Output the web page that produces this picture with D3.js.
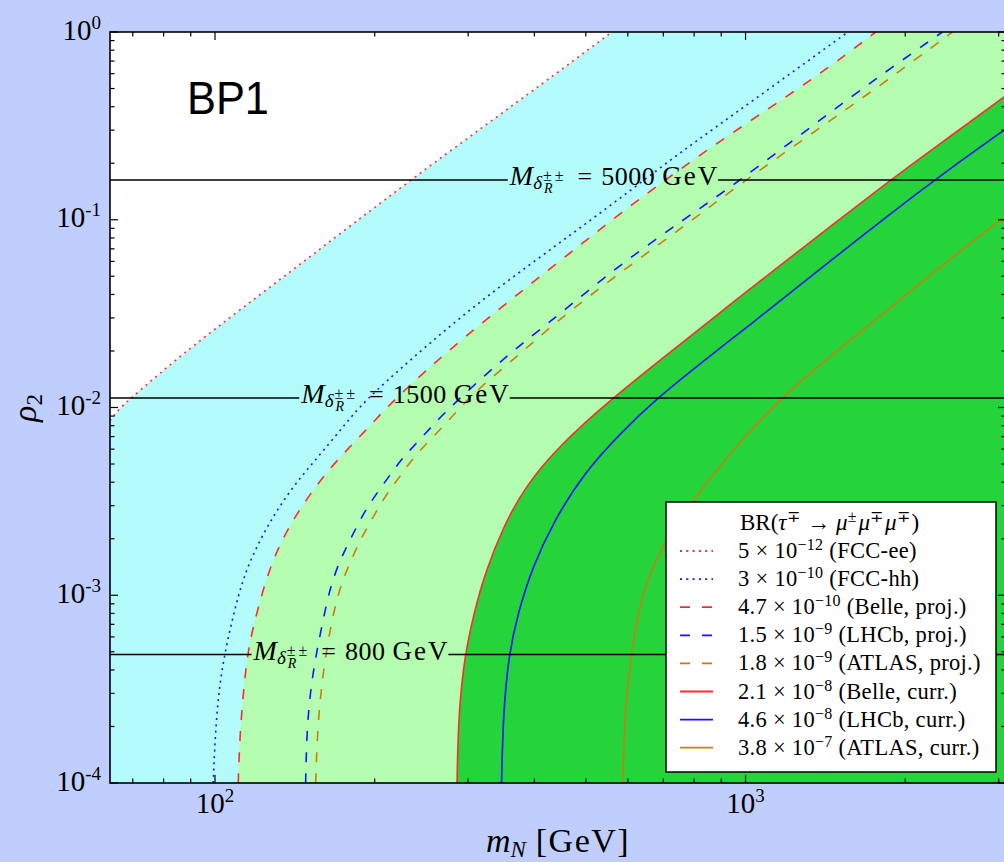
<!DOCTYPE html>
<html><head><meta charset="utf-8">
<script src="https://cdn.jsdelivr.net/npm/d3@7"></script>
<style>html,body{margin:0;padding:0;background:#bfcefd;}svg{display:block}</style>
</head><body>
<svg id="c" width="1004" height="862"></svg>
<script>
// ---------- data (m_N in GeV, rho_2) ----------
const fccEE     = [[63.4,8.49e-3],[65.3,9.5e-3],[68.2,1.074e-2],[69.5,1.12e-2],[87.5,1.98e-2],[142.6,5.6e-2],[233.1,0.1628],[440.7,0.6026],[560,1.0]];
const fccHH     = [[99.2,1e-4],[100.4,2.17e-4],[102.9,4.16e-4],[109.1,8.69e-4],[114.8,1.42e-3],[125.2,2.32e-3],[138.5,3.64e-3],[155.5,5.36e-3],[174.5,7.9e-3],[190.4,1.07e-2],[233.1,1.79e-2],[311.4,3.59e-2],[440.7,7.34e-2],[571.7,0.126],[763.4,0.235],[1020,0.42],[1560,1.0]];
const belleProj = [[110.6,1e-4],[111.4,1.84e-4],[113.9,3.84e-4],[116.4,5.78e-4],[120.7,8.69e-4],[126.9,1.42e-3],[136.5,2.23e-3],[151.1,3.49e-3],[169.6,5.25e-3],[190.4,7.29e-3],[216.8,1.1e-2],[289.6,2.29e-2],[440.7,5.86e-2],[660.7,0.144],[948.3,0.294],[1362,0.578],[1760,1.0]];
const lhcbProj  = [[148.2,1e-4],[148.9,1.84e-4],[151.1,3.0e-4],[154.4,4.52e-4],[158.9,6.8e-4],[164.8,1.11e-3],[172.1,1.54e-3],[179.7,1.97e-3],[190.4,2.73e-3],[201.7,3.49e-3],[213.8,4.37e-3],[226.5,5.47e-3],[240,6.45e-3],[269.4,9.31e-3],[325.3,1.52e-2],[375.7,2.15e-2],[440.7,3.05e-2],[571.7,5.6e-2],[763.4,0.1],[962.6,0.157],[1362,0.33],[1819,0.603],[2350,1.0]];
const atlasProj = [[154.8,1e-4],[155.9,1.84e-4],[158.2,3.0e-4],[161.2,4.52e-4],[166,7.38e-4],[172.1,1.11e-3],[178.4,1.42e-3],[187.7,1.97e-3],[198.8,2.62e-3],[210.8,3.49e-3],[223.3,4.28e-3],[236.5,5.47e-3],[269.4,7.9e-3],[298.2,1.1e-2],[339.6,1.52e-2],[392.6,2.15e-2],[443.7,2.92e-2],[571.7,5.08e-2],[763.4,9.18e-2],[990.6,0.1595],[1362,0.3006],[1819,0.533],[2455,1.0]];
const belleCurr = [[285.9,1e-4],[287.7,2.35e-4],[295.7,4.81e-4],[307.6,8.01e-4],[322.6,1.31e-3],[349.4,2.32e-3],[384.3,3.79e-3],[443.3,6.18e-3],[560.4,1.12e-2],[714,1.93e-2],[906.3,3.29e-2],[1062,4.69e-2],[1873,0.1628],[2429,0.277],[3071,0.452],[3200,0.49]];
const lhcbCurr  = [[346.8,1e-4],[349.4,2.35e-4],[357.8,4.81e-4],[372.2,8.01e-4],[396.8,1.42e-3],[436.5,2.52e-3],[495.5,4.46e-3],[580.8,7.29e-3],[680.8,1.12e-2],[837,1.79e-2],[1029,2.81e-2],[1265,4.49e-2],[2259,0.1628],[3071,0.3006],[3200,0.325]];
const atlasCurr = [[586.9,1e-4],[590.3,1.92e-4],[604.5,4.34e-4],[628.9,8.69e-4],[675.2,1.6e-3],[789.5,3.14e-3],[955.5,6.16e-3],[1161,1.12e-2],[1459,1.915e-2],[1711,2.75e-2],[2154,4.72e-2],[3071,0.1038],[3200,0.112]];

const deltaMasses = ["5000","1500","800"];
const deltaRho    = [0.163, 0.01124, 4.835e-4];

const legendMant  = ["5","3","4.7","1.5","1.8","2.1","4.6","3.8"];
const legendExp   = ["\u221212","\u221210","\u221210","\u22129","\u22129","\u22128","\u22128","\u22127"];
const legendExpt  = ["FCC-ee","FCC-hh","Belle, proj.","LHCb, proj.","ATLAS, proj.","Belle, curr.","LHCb, curr.","ATLAS, curr."];

const xMajor = [100, 1000];
const xMajorExp = ["2","3"];
const xMinor = [70,80,90,200,300,400,500,600,700,800,900,2000,3000];
const yMajor = [1, 1e-1, 1e-2, 1e-3, 1e-4];
const yMajorExp = ["0","-1","-2","-3","-4"];
const yMinor = [];
[1e-4,1e-3,1e-2,1e-1].forEach(d => { for (let j=2;j<=9;j++) yMinor.push(j*d); });

// ---------- styles ----------
const RED="#ff2a2a", BLUE="#1515ff", ORANGE="#c97f10";
const DOT="2,4.3", DASH="10,11";
const series = [
  {d:fccEE,     c:RED,    dash:DOT},
  {d:fccHH,     c:BLUE,   dash:DOT},
  {d:belleProj, c:RED,    dash:DASH},
  {d:lhcbProj,  c:BLUE,   dash:DASH},
  {d:atlasProj, c:ORANGE, dash:DASH},
  {d:belleCurr, c:RED,    dash:null},
  {d:lhcbCurr,  c:BLUE,   dash:null},
  {d:atlasCurr, c:ORANGE, dash:null}
];
const SERIF = "'Liberation Serif','Times New Roman',serif";

// ---------- scales ----------
const L=110, T=32, B=783, R=1006;
const x = d3.scaleLog().domain([63.4, 3097]).range([L, R]);
const y = d3.scaleLog().domain([1e-4, 1]).range([B, T]);

const svg = d3.select("#c");
svg.append("rect").attr("width",1004).attr("height",862).attr("fill","#bfcefd");
svg.append("defs").append("clipPath").attr("id","clip")
  .append("rect").attr("x",L).attr("y",T).attr("width",R-L).attr("height",B-T);
const plot = svg.append("g").attr("clip-path","url(#clip)");
plot.append("rect").attr("x",L).attr("y",T).attr("width",R-L).attr("height",B-T).attr("fill","#ffffff");

const lineGen = d3.line().x(d=>x(d[0])).y(d=>y(d[1])).curve(d3.curveBasis);
function fillPath(pts){
  const f = pts[0], l = pts[pts.length-1];
  const xr = x.range()[1] + 20, yb = y.range()[0] + 20;
  return lineGen(pts) + `L${xr},${y(l[1])}L${xr},${yb}L${x(f[0])},${yb}Z`;
}
plot.append("path").attr("d", fillPath(fccEE)).attr("fill","#b3fcfb");
plot.append("path").attr("d", fillPath(belleProj)).attr("fill","#b3fcb0");
plot.append("path").attr("d", fillPath(belleCurr)).attr("fill","#25d33b");

series.forEach(s => {
  plot.append("path").attr("d", lineGen(s.d)).attr("fill","none")
    .attr("stroke", s.c).attr("stroke-width", 1.6)
    .attr("stroke-dasharray", s.dash);
});

// ---------- horizontal delta-mass lines with inline labels ----------
const labelCX = [614, 405.5, 351];
deltaRho.forEach((r,i) => {
  const yy = y(r);
  const g = svg.append("g");
  const txt = g.append("text").attr("font-family",SERIF);
  let cx = 0;
  function put(str, dy, size, ital, ls, dx){
    const t = txt.append("tspan").attr("x",cx+(dx||0)).attr("y",yy+dy).attr("font-size",size)
      .attr("font-style",ital?"italic":"normal").attr("letter-spacing", ls||0).text(str);
    return t.node().getComputedTextLength();
  }
  cx += put("M", 5.5, 28, true);
  cx += put("\u03b4", 9.5, 19, true) + 1;
  const w1 = put("\u00b1\u00b1", 1.5, 16, false, 3);
  const w2 = put("R", 13.5, 14, true, 0, 1);
  cx += Math.max(w1, w2) + 11;
  cx += put("=", 5.5, 26, false) + 9;
  cx += put(deltaMasses[i], 5.5, 26, false, 0.5) + 7;
  cx += put("GeV", 5.5, 27, false, 2);
  const bb = g.node().getBBox();
  const shift = labelCX[i] - (bb.x + bb.width/2);
  g.attr("transform", `translate(${shift},0)`);
  const x0 = bb.x + shift, x1 = bb.x + bb.width + shift;
  svg.insert("line", "g:last-child").attr("x1",L).attr("x2",x0-1).attr("y1",yy).attr("y2",yy)
    .attr("stroke","#000").attr("stroke-width",1.5);
  svg.insert("line", "g:last-child").attr("x1",x1-1).attr("x2",R).attr("y1",yy).attr("y2",yy)
    .attr("stroke","#000").attr("stroke-width",1.5);
});

// ---------- axes (inward ticks on four sides) ----------
const ax = svg.append("g").attr("stroke","#000").attr("stroke-width",1.2);
function tick(x1,y1,x2,y2){ ax.append("line").attr("x1",x1).attr("y1",y1).attr("x2",x2).attr("y2",y2); }
xMajor.forEach(v => { const p=x(v); tick(p,B,p,B-8); tick(p,T,p,T+8); });
xMinor.forEach(v => { const p=x(v); tick(p,B,p,B-4.5); tick(p,T,p,T+4.5); });
yMajor.forEach(v => { const p=y(v); tick(L,p,L+8,p); tick(R,p,R-8,p); });
yMinor.forEach(v => { const p=y(v); tick(L,p,L+4.5,p); tick(R,p,R-4.5,p); });
svg.append("rect").attr("x",L).attr("y",T).attr("width",R-L).attr("height",B-T)
  .attr("fill","none").attr("stroke","#000").attr("stroke-width",1.6);

// tick labels
yMajor.forEach((v,i) => {
  const t = svg.append("text").attr("x",101).attr("y",y(v)+7.5).attr("text-anchor","end")
    .attr("font-family",SERIF).attr("font-size",29);
  t.append("tspan").text("10");
  t.append("tspan").attr("dy",-11).attr("font-size",19).text(yMajorExp[i]);
});
xMajor.forEach((v,i) => {
  const t = svg.append("text").attr("x",x(v)).attr("y",813).attr("text-anchor","middle")
    .attr("font-family",SERIF).attr("font-size",29);
  t.append("tspan").text("10");
  t.append("tspan").attr("dy",-11).attr("font-size",19).text(xMajorExp[i]);
});

// axis titles
const xt = svg.append("text").attr("x",558).attr("y",852).attr("text-anchor","middle")
  .attr("font-family",SERIF).attr("font-size",34);
xt.append("tspan").attr("font-style","italic").text("m");
xt.append("tspan").attr("font-style","italic").attr("font-size",23).attr("dy",5).text("N");
xt.append("tspan").attr("dy",-5).attr("letter-spacing",1.5).text(" [GeV]");

const yt = svg.append("text").attr("transform","translate(36,408) rotate(-90)").attr("text-anchor","middle")
  .attr("font-family",SERIF).attr("font-size",34);
yt.append("tspan").attr("font-style","italic").text("\u03c1");
yt.append("tspan").attr("font-size",23).attr("dy",6).text("2");

// BP1
svg.append("text").attr("x",187).attr("y",114).attr("font-family","'Liberation Sans',Arial,sans-serif")
  .attr("font-size",47).attr("textLength",82).attr("lengthAdjust","spacingAndGlyphs").text("BP1");

// ---------- legend ----------
const lg = svg.append("g");
lg.append("rect").attr("x",666).attr("y",502).attr("width",330).attr("height",270)
  .attr("fill","#fff").attr("stroke","#000").attr("stroke-width",1.5);
const tt = lg.append("text").attr("x",740).attr("y",530).attr("font-family",SERIF).attr("font-size",23);
tt.append("tspan").text("BR(");
tt.append("tspan").attr("font-style","italic").text("\u03c4");
tt.append("tspan").attr("font-size",16).attr("dy",-8).attr("letter-spacing",2).text("\u2213");
tt.append("tspan").attr("dy",8).text(" \u2192 ");
["\u00b1","\u2213","\u2213"].forEach((s,k) => {
  tt.append("tspan").attr("font-style","italic").attr("dy", k===0 ? 0 : 8).text("\u03bc");
  tt.append("tspan").attr("font-size",16).attr("dy",-8).attr("letter-spacing",2).text(s);
});
tt.append("tspan").attr("dy",8).text(")");

series.forEach((s,i) => {
  const cy = 551 + i*28.1;
  lg.append("line").attr("x1",680).attr("x2",713).attr("y1",cy).attr("y2",cy)
    .attr("stroke",s.c).attr("stroke-width",1.8).attr("stroke-dasharray", s.dash===DOT ? DOT : (s.dash ? "10,12" : null));
  const t = lg.append("text").attr("x",738).attr("y",cy+7).attr("font-family",SERIF)
    .attr("font-size",22.5).attr("letter-spacing",0.3);
  t.append("tspan").text(legendMant[i] + " \u00d7 10");
  t.append("tspan").attr("font-size",16).attr("dy",-8).text(legendExp[i]);
  t.append("tspan").attr("dy",8).text(" (" + legendExpt[i] + ")");
});
</script>
</body></html>
